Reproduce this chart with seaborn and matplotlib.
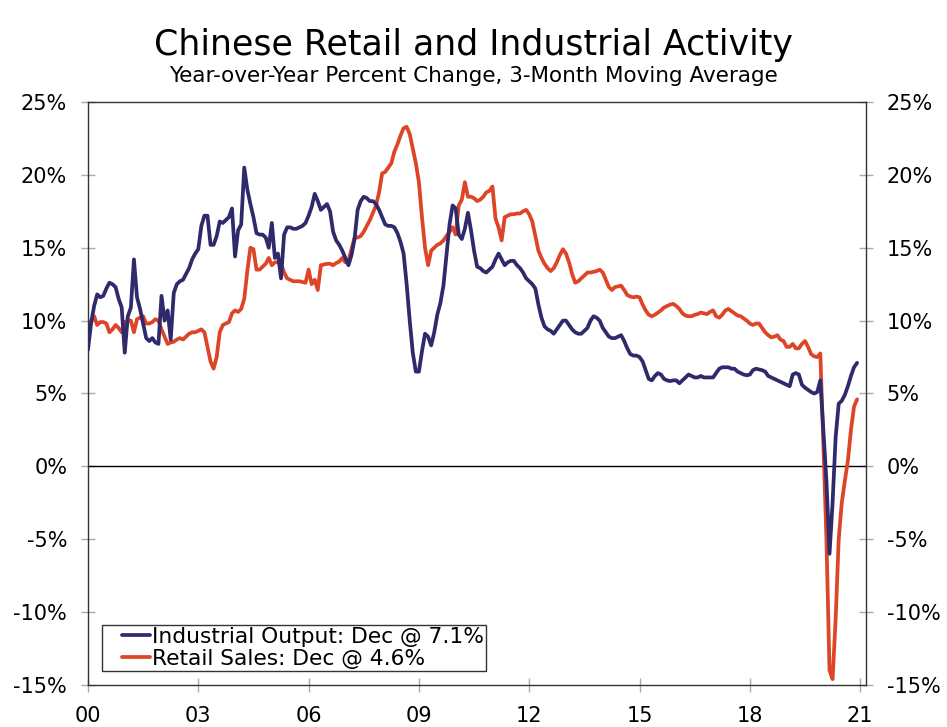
import numpy as np
import pandas as pd
import matplotlib
matplotlib.use("Agg")
import matplotlib.pyplot as plt
from matplotlib.lines import Line2D
from matplotlib.legend_handler import HandlerLine2D
import seaborn as sns

# -------------------------------
# Data: Year-over-year % change, 3-month moving average (monthly, Jan 2000 - Dec 2020)
# -------------------------------

industrial = [
    8.0, 9.8, 11.0, 11.8, 11.6, 11.7, 12.2, 12.6, 12.5, 12.3, 11.5, 10.9,    # 2000
    7.8, 10.3, 10.9, 14.2, 11.6, 10.8, 9.8, 8.8, 8.6, 8.8, 8.5, 8.4,         # 2001
    11.7, 10.0, 10.7, 8.7, 11.9, 12.5, 12.7, 12.8, 13.2, 13.6, 14.2, 14.6,   # 2002
    14.9, 16.5, 17.2, 17.2, 15.2, 15.2, 15.8, 16.8, 16.7, 16.9, 17.1, 17.7,  # 2003
    14.4, 16.2, 16.6, 20.5, 19.0, 18.0, 17.1, 16.0, 15.9, 15.9, 15.7, 15.0,  # 2004
    16.7, 14.3, 14.6, 12.9, 15.9, 16.4, 16.4, 16.3, 16.3, 16.4, 16.5, 16.7,  # 2005
    17.2, 17.8, 18.7, 18.2, 17.6, 17.8, 18.0, 17.5, 16.1, 15.5, 15.2, 14.8,  # 2006
    14.3, 13.8, 14.5, 15.6, 17.6, 18.2, 18.5, 18.4, 18.2, 18.2, 18.0, 17.6,  # 2007
    17.1, 16.6, 16.5, 16.5, 16.4, 16.0, 15.4, 14.6, 12.5, 10.0, 7.8, 6.5,    # 2008
    6.5, 7.9, 9.1, 8.9, 8.3, 9.2, 10.4, 11.2, 12.4, 14.5, 16.6, 17.9,        # 2009
    17.7, 15.9, 15.6, 16.3, 17.4, 16.2, 14.8, 13.7, 13.6, 13.4, 13.3, 13.5,  # 2010
    13.7, 14.2, 14.6, 14.2, 13.8, 14.0, 14.1, 14.1, 13.8, 13.6, 13.3, 12.9,  # 2011
    12.7, 12.5, 12.2, 11.1, 10.2, 9.6, 9.4, 9.3, 9.1, 9.4, 9.7, 10.0,        # 2012
    10.0, 9.7, 9.4, 9.2, 9.1, 9.1, 9.3, 9.5, 10.0, 10.3, 10.2, 10.0,         # 2013
    9.5, 9.2, 8.9, 8.8, 8.8, 8.9, 9.0, 8.6, 8.1, 7.7, 7.6, 7.6,              # 2014
    7.5, 7.2, 6.6, 6.0, 5.9, 6.2, 6.4, 6.3, 6.0, 5.9, 5.85, 5.9,             # 2015
    5.9, 5.7, 5.9, 6.1, 6.3, 6.2, 6.1, 6.1, 6.2, 6.1, 6.1, 6.1,              # 2016
    6.1, 6.4, 6.7, 6.8, 6.8, 6.8, 6.7, 6.7, 6.5, 6.4, 6.3, 6.25,             # 2017
    6.3, 6.6, 6.7, 6.65, 6.6, 6.5, 6.2, 6.1, 6.0, 5.9, 5.8, 5.7,             # 2018
    5.6, 5.5, 6.3, 6.4, 6.3, 5.6, 5.4, 5.25, 5.1, 5.0, 5.1, 5.9,             # 2019
    2.5, -1.0, -6.0, -2.5, 2.0, 4.3, 4.5, 4.9, 5.5, 6.2, 6.8, 7.1,           # 2020
]

retail = [
    9.0, 10.0, 10.3, 9.7, 9.9, 9.9, 9.8, 9.2, 9.4, 9.7, 9.5, 9.2,            # 2000
    9.9, 10.0, 10.0, 9.2, 10.1, 10.2, 10.3, 9.8, 9.8, 9.9, 10.1, 10.0,       # 2001
    9.4, 8.9, 8.4, 8.5, 8.55, 8.7, 8.8, 8.7, 8.9, 9.1, 9.2, 9.2,             # 2002
    9.3, 9.4, 9.2, 8.2, 7.2, 6.7, 7.5, 9.2, 9.7, 9.8, 9.9, 10.5,             # 2003
    10.7, 10.6, 10.8, 11.5, 13.4, 15.0, 14.9, 13.5, 13.5, 13.7, 13.9, 14.3,  # 2004
    13.8, 14.0, 14.0, 13.9, 13.3, 12.9, 12.8, 12.7, 12.7, 12.7, 12.65, 12.6, # 2005
    13.5, 12.5, 12.8, 12.1, 13.8, 13.85, 13.9, 13.9, 13.8, 13.95, 14.05, 14.3,  # 2006
    14.0, 14.1, 14.9, 15.7, 15.7, 15.8, 16.1, 16.5, 16.9, 17.4, 17.9, 18.8,  # 2007
    20.1, 20.2, 20.5, 20.8, 21.6, 22.1, 22.7, 23.2, 23.3, 22.8, 21.8, 20.8,  # 2008
    19.5, 17.1, 15.0, 13.8, 14.8, 15.0, 15.2, 15.3, 15.5, 15.8, 16.1, 16.4,  # 2009
    15.9, 17.9, 18.3, 19.5, 18.5, 18.5, 18.4, 18.2, 18.3, 18.5, 18.8, 18.9,  # 2010
    19.2, 17.0, 16.4, 15.5, 17.1, 17.2, 17.3, 17.3, 17.35, 17.35, 17.5, 17.6,  # 2011
    17.3, 16.8, 15.8, 14.8, 14.3, 13.9, 13.6, 13.4, 13.6, 14.0, 14.5, 14.9,  # 2012
    14.6, 14.0, 13.2, 12.6, 12.7, 12.9, 13.1, 13.3, 13.3, 13.35, 13.4, 13.5,  # 2013
    13.3, 12.8, 12.3, 12.1, 12.3, 12.35, 12.4, 12.1, 11.75, 11.65, 11.6, 11.65,  # 2014
    11.6, 11.1, 10.7, 10.4, 10.3, 10.4, 10.55, 10.7, 10.9, 11.0, 11.1, 11.15,  # 2015
    11.0, 10.8, 10.5, 10.35, 10.3, 10.3, 10.4, 10.45, 10.55, 10.5, 10.45, 10.6,  # 2016
    10.7, 10.3, 10.2, 10.4, 10.7, 10.8, 10.65, 10.5, 10.35, 10.3, 10.15, 10.0,  # 2017
    9.8, 9.7, 9.8, 9.8, 9.5, 9.2, 9.0, 8.85, 8.9, 9.0, 8.7, 8.6,             # 2018
    8.2, 8.2, 8.4, 8.1, 8.1, 8.4, 8.6, 8.2, 7.7, 7.55, 7.5, 7.75,            # 2019
    1.5, -5.0, -14.0, -14.6, -10.5, -5.0, -2.5, -1.0, 0.4, 2.5, 4.1, 4.6,    # 2020
]

year_ticks = [2000, 2003, 2006, 2009, 2012, 2015, 2018, 2021]
year_labels = ["00", "03", "06", "09", "12", "15", "18", "21"]
pct_ticks = [-15, -10, -5, 0, 5, 10, 15, 20, 25]

io_label = "Industrial Output: Dec @ 7.1%"
rs_label = "Retail Sales: Dec @ 4.6%"

months = 2000 + np.arange(len(industrial)) / 12
df = pd.DataFrame({"date": months, "industrial": industrial, "retail": retail})

# -------------------------------
# Plot
# -------------------------------
sns.set_style("white")
plt.rcParams["font.family"] = ["DejaVu Sans"]
plt.rcParams["text.color"] = "black"

fig = plt.figure(figsize=(9.47, 7.27), dpi=100)
ax = fig.add_axes([0.0929, 0.0578, 0.8216, 0.8019])

ax.axhline(0, color="black", lw=1, zorder=1)
sns.lineplot(data=df, x="date", y="industrial", ax=ax, color="#2E2A6C", lw=2.7, label=io_label, zorder=3)
sns.lineplot(data=df, x="date", y="retail", ax=ax, color="#DE4427", lw=2.7, label=rs_label, zorder=2)

ax.set_xlim(2000, 2021.16)
ax.set_ylim(-15, 25)
ax.set_xticks(year_ticks)
ax.set_xticklabels(year_labels)
ax.set_yticks(pct_ticks)
ax.set_yticklabels([f"{v}%" for v in pct_ticks])
ax.set_xlabel("")
ax.set_ylabel("")

for s in ax.spines.values():
    s.set_color("#333333")
    s.set_linewidth(1.0)

ax.tick_params(axis="both", direction="inout", length=10, width=1, color="#aaaaaa",
               labelsize=15, pad=10, labelcolor="black")
ax.tick_params(axis="y", left=True, right=True, labelleft=True, labelright=True)
ax.tick_params(axis="x", bottom=True)

leg = ax.legend(loc="lower left", bbox_to_anchor=(0.018, 0.024), borderaxespad=0,
                fontsize=15.7, frameon=True, fancybox=False, handlelength=2.1,
                handletextpad=0.1, labelspacing=0.08, borderpad=0.1,
                handler_map={Line2D: HandlerLine2D(xpad=0.82)})
leg.get_frame().set_edgecolor("black")
leg.get_frame().set_linewidth(1.0)

fig.text(0.5, 0.938, "Chinese Retail and Industrial Activity", ha="center", va="center", fontsize=25)
fig.text(0.5, 0.895, "Year-over-Year Percent Change, 3-Month Moving Average", ha="center", va="center", fontsize=15.5)

fig.savefig("out.png", dpi=100)
